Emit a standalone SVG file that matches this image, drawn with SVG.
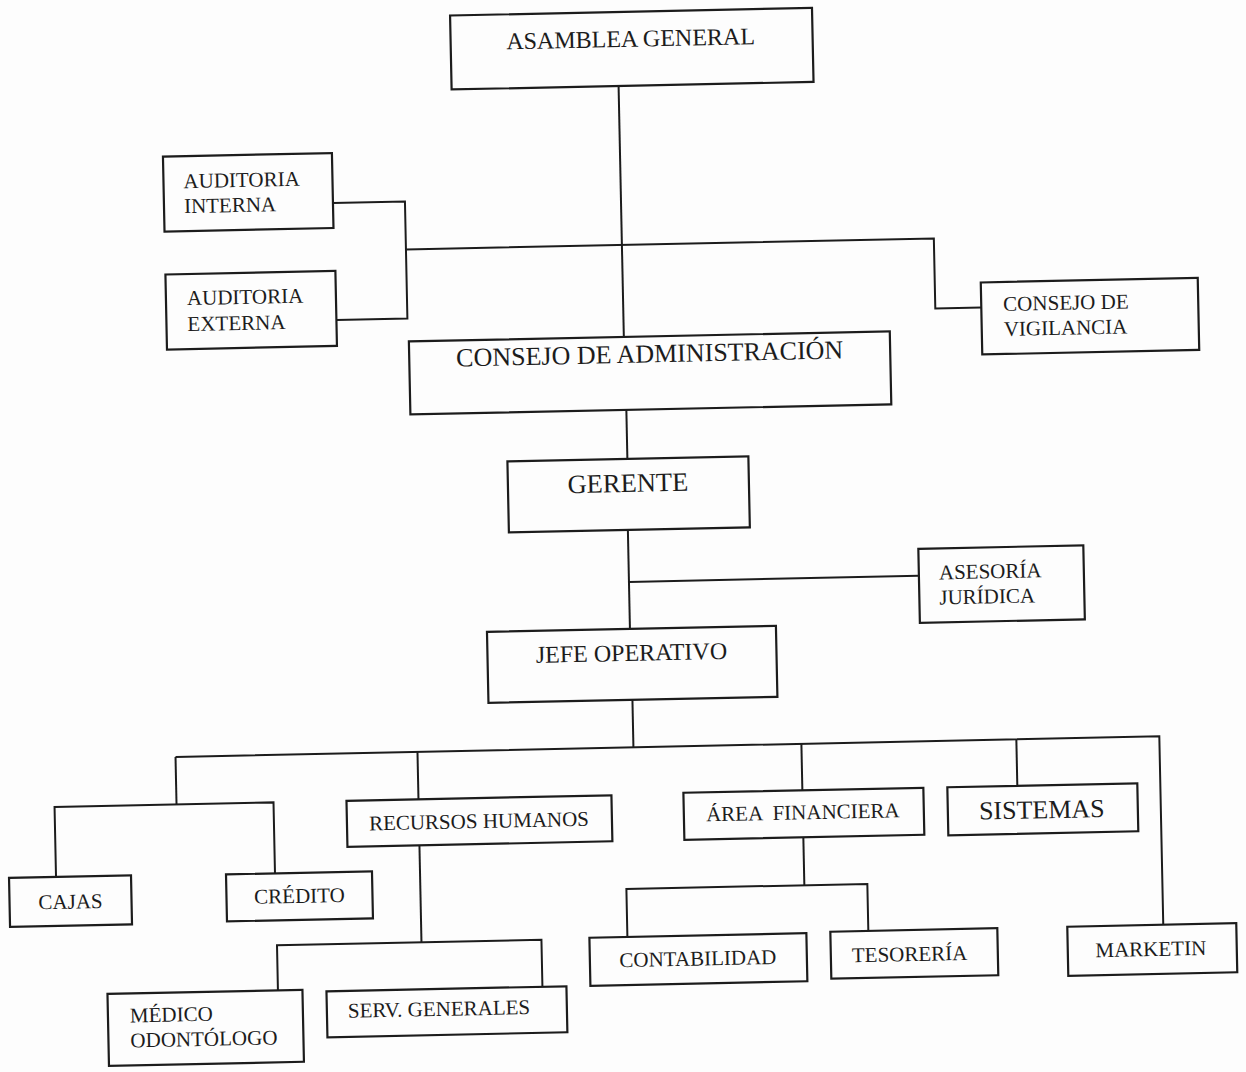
<svg xmlns="http://www.w3.org/2000/svg" width="1246" height="1072" viewBox="0 0 1246 1072">
<style>
.box{fill:none;stroke:#1c1c1c;stroke-width:2.2}
.ln{fill:none;stroke:#1c1c1c;stroke-width:2}
text{font-family:"Liberation Serif","Times New Roman",serif;fill:#1c1c1c;font-size:21px}
.c{text-anchor:middle}
.big{font-size:24px}
.xl{font-size:26px}
</style>
<rect width="1246" height="1072" fill="#fdfdfd"/>
<g transform="rotate(-1.2 623 536)">
<g id="connectors">
<path class="ln" d="M628 86V337"/>
<path class="ln" d="M340 197H412V314H341"/>
<path class="ln" d="M412 245H940V315H986"/>
<path class="ln" d="M629 410V459"/>
<path class="ln" d="M628 530V629"/>
<path class="ln" d="M628 582H918"/>
<path class="ln" d="M629 700V747.5"/>
<path class="ln" d="M171 747.5H1155V936"/>
<path class="ln" d="M171 747.5V795"/>
<path class="ln" d="M49 865V795H268V866"/>
<path class="ln" d="M413 747.5V795"/>
<path class="ln" d="M413 841V938"/>
<path class="ln" d="M268.5 983V938H533V985"/>
<path class="ln" d="M797 747.5V794"/>
<path class="ln" d="M797 841V889"/>
<path class="ln" d="M619 937V889H860V936"/>
<path class="ln" d="M1012 747.5V794"/>
</g>
<g id="asamblea"><rect class="box" x="461" y="12" width="362" height="74"/><text class="c big" x="641" y="47">ASAMBLEA GENERAL</text></g>
<g id="auditoria-interna"><rect class="box" x="171" y="147" width="169" height="75"/><text x="191" y="179">AUDITORIA</text><text x="191" y="204">INTERNA</text></g>
<g id="auditoria-externa"><rect class="box" x="171" y="265" width="170" height="75"/><text x="192" y="296">AUDITORIA</text><text x="192" y="322">EXTERNA</text></g>
<g id="consejo-vigilancia"><rect class="box" x="986" y="290" width="217" height="72"/><text x="1008" y="319">CONSEJO DE</text><text x="1008" y="344">VIGILANCIA</text></g>
<g id="consejo-administracion"><rect class="box" x="413" y="337" width="481" height="73"/><text class="c xl" x="653.5" y="363">CONSEJO DE ADMINISTRACIÓN</text></g>
<g id="gerente"><rect class="box" x="509" y="459" width="241" height="71"/><text class="c xl" x="629" y="492" style="font-size:26.5px">GERENTE</text></g>
<g id="asesoria-juridica"><rect class="box" x="918" y="555" width="165" height="74"/><text x="938" y="586">ASESORÍA</text><text x="938" y="611">JURÍDICA</text></g>
<g id="jefe-operativo"><rect class="box" x="485" y="629" width="289" height="71"/><text class="c big" x="629" y="661">JEFE OPERATIVO</text></g>
<g id="cajas"><rect class="box" x="2" y="865" width="122" height="49"/><text class="c" x="63" y="897">CAJAS</text></g>
<g id="credito"><rect class="box" x="219" y="866" width="146" height="47"/><text class="c" x="292" y="896">CRÉDITO</text></g>
<g id="recursos-humanos"><rect class="box" x="341" y="795" width="265" height="46"/><text class="c" x="473" y="825">RECURSOS HUMANOS</text></g>
<g id="medico"><rect class="box" x="98" y="983" width="195" height="72"/><text x="120" y="1012">MÉDICO</text><text x="120" y="1037">ODONTÓLOGO</text></g>
<g id="serv-generales"><rect class="box" x="317" y="985" width="240" height="46"/><text x="338" y="1012">SERV. GENERALES</text></g>
<g id="area-financiera"><rect class="box" x="678" y="794" width="240" height="47"/><text class="c" x="797" y="823" xml:space="preserve">ÁREA  FINANCIERA</text></g>
<g id="contabilidad"><rect class="box" x="581" y="937" width="217" height="48"/><text class="c" x="689" y="967">CONTABILIDAD</text></g>
<g id="tesoreria"><rect class="box" x="822" y="936" width="167" height="47"/><text x="843" y="967">TESORERÍA</text></g>
<g id="sistemas"><rect class="box" x="942" y="794" width="190" height="48"/><text class="c xl" x="1036" y="827">SISTEMAS</text></g>
<g id="marketin"><rect class="box" x="1059" y="936" width="169" height="49"/><text class="c" x="1142" y="967">MARKETIN</text></g>
</g>
</svg>
